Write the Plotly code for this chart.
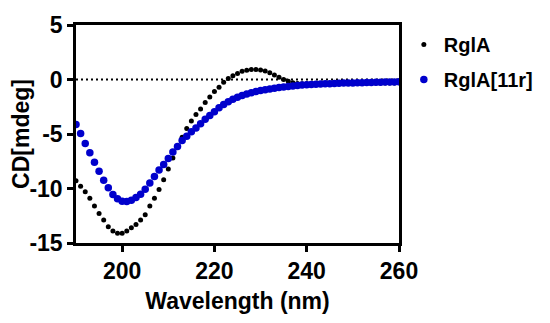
import plotly.graph_objects as go

wavelength = list(range(190, 261))

rgla = [-9.3, -9.8, -10.3, -10.9, -11.6, -12.3, -12.9, -13.5, -13.9, -14.1,
        -14.1, -13.9, -13.6, -13.3, -12.9, -12.4, -11.6, -10.9, -10.1, -9.2,
        -8.2, -7.2, -6.2, -5.3, -4.5, -3.8, -3.2, -2.7, -2.1, -1.6,
        -1.1, -0.7, -0.25, 0.1, 0.35, 0.55, 0.75, 0.85, 0.92, 0.92,
        0.88, 0.78, 0.62, 0.42, 0.2, 0.0, -0.17, -0.3, -0.37, -0.4,
        -0.4, -0.4, -0.4, -0.4, -0.39, -0.39, -0.38, -0.38, -0.37, -0.37,
        -0.36, -0.35, -0.35, -0.34, -0.33, -0.33, -0.32, -0.32, -0.31, -0.31,
        -0.3]

rgla_11r = [-4.13, -4.95, -5.87, -6.73, -7.59, -8.41, -9.24, -9.94, -10.55, -10.95,
            -11.17, -11.19, -11.07, -10.83, -10.52, -10.06, -9.5, -8.9, -8.3, -7.8,
            -7.25, -6.65, -6.15, -5.6, -5.2, -4.8, -4.45, -4.05, -3.65, -3.3,
            -2.95, -2.6, -2.3, -2.05, -1.82, -1.62, -1.46, -1.33, -1.21, -1.1,
            -1.02, -0.94, -0.87, -0.8, -0.74, -0.69, -0.64, -0.59, -0.55, -0.51,
            -0.48, -0.46, -0.44, -0.42, -0.4, -0.38, -0.36, -0.35, -0.33, -0.32,
            -0.31, -0.3, -0.29, -0.28, -0.27, -0.26, -0.25, -0.24, -0.23, -0.22,
            -0.21]

x_ticks = [200, 220, 240, 260]
x_tick_labels = ["200", "220", "240", "260"]
y_ticks = [-15, -10, -5, 0, 5]
y_tick_labels = ["-15", "-10", "-5", "0", "5"]

font_family = "Liberation Sans, Arial, sans-serif"

fig = go.Figure()
fig.add_trace(go.Scatter(
    x=wavelength, y=rgla, mode="markers", name="RglA",
    legendgroup="a",
    marker=dict(color="black", size=5, symbol="circle"),
))
fig.add_trace(go.Scatter(
    x=wavelength, y=rgla_11r, mode="markers", name="RglA[11r]",
    legendgroup="b",
    marker=dict(color="#0000CC", size=7.5, symbol="circle"),
))

fig.add_shape(type="line", xref="paper", x0=0, x1=1, yref="y", y0=0, y1=0,
              line=dict(color="black", width=2, dash="2px,3px"), layer="below")

axis_common = dict(
    showline=True, linecolor="black", linewidth=2.5, mirror=True,
    ticks="outside", ticklen=6, tickwidth=2.5, tickcolor="black",
    showgrid=False, zeroline=False, automargin=False,
    tickfont=dict(family=font_family, size=23, color="black", weight="bold"),
)

fig.update_xaxes(range=[190, 260], tickvals=x_ticks, ticktext=x_tick_labels,
                 title=dict(text="Wavelength (nm)", standoff=10,
                            font=dict(family=font_family, size=23, color="black", weight="bold")),
                 **axis_common)
fig.update_yaxes(range=[-15, 5], tickvals=y_ticks, ticktext=y_tick_labels,
                 title=dict(text="CD[mdeg]", standoff=8,
                            font=dict(family=font_family, size=23, color="black", weight="bold")),
                 **axis_common)

fig.update_layout(
    width=542, height=315,
    margin=dict(l=68, r=147, t=17, b=80),
    plot_bgcolor="white", paper_bgcolor="white",
    showlegend=True,
    legend=dict(x=1.015, y=1.0, xanchor="left", yanchor="top",
                font=dict(family=font_family, size=20, color="black", weight="bold"),
                tracegroupgap=6, bgcolor="rgba(0,0,0,0)"),
)

fig.write_html("out.html")
